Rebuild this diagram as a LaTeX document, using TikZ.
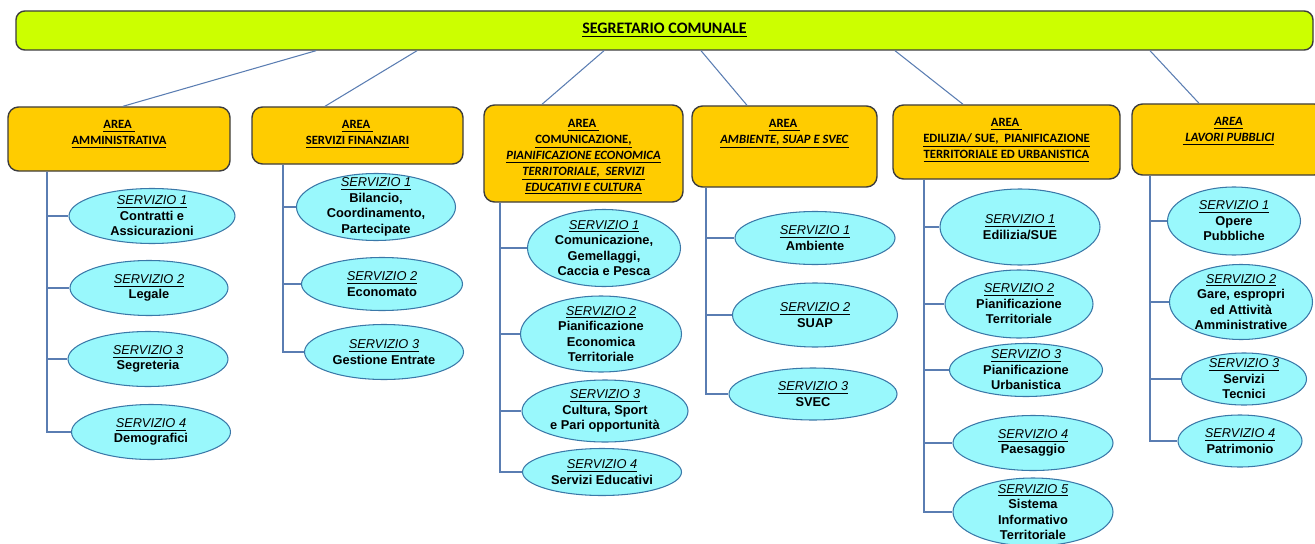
\documentclass[tikz,border=0pt]{standalone}
\usepackage{fontspec}
\setmainfont{Carlito}
\newfontfamily\arial{Liberation Sans}
\usetikzlibrary{shapes.geometric, calc}
\definecolor{verdino}{RGB}{204,255,0}
\definecolor{oro}{RGB}{255,204,0}
\definecolor{celeste}{RGB}{153,248,252}
\definecolor{bordoserv}{RGB}{58,120,168}
\definecolor{linea}{RGB}{90,125,178}
\definecolor{bordo}{RGB}{60,60,60}
\tikzstyle{conn} = [draw=linea, line width=0.6pt]
\tikzstyle{arealbl} = [anchor=north, inner sep=0pt, align=center, font=\bfseries\fontsize{7.2}{9}\selectfont]
\tikzset{
  areabox/.style 2 args={rectangle, draw=bordo, fill=oro, line width=0.8pt,
    rounded corners=6pt, inner sep=0pt, minimum width=#1*0.02cm, minimum height=#2*0.02cm},
  serv/.style 2 args={ellipse, draw=bordoserv, fill=celeste, line width=0.6pt,
    inner xsep=-2pt, inner ysep=-4pt, align=center,
    minimum width=#1*0.02cm, minimum height=#2*0.02cm,
    font=\arial\bfseries\fontsize{7.3}{8.8}\selectfont}
}
\newcommand{\servizio}[1]{\underline{\textit{\mdseries SERVIZIO #1}}}
\newcommand{\sott}[1]{\underline{#1}}

\begin{document}
\begin{tikzpicture}[x=0.02cm, y=-0.02cm]
\useasboundingbox (0,0) rectangle (1315,544);
\clip (0,0) rectangle (1315,544);

% segretario
\node[draw=bordo, fill=verdino, line width=0.8pt, rounded corners=5pt,
  minimum width=1297*0.02cm, minimum height=39*0.02cm,
  font=\bfseries\fontsize{9.1}{11}\selectfont] (top) at (664.5,30.5)
  {\sott{SEGRETARIO COMUNALE}};

% aree
\node[areabox={222}{64}] (a1) at (119,139) {};
\node[areabox={211}{57}] (a2) at (357.5,135.5) {};
\node[areabox={199}{97}] (a3) at (583.5,153.5) {};
\node[areabox={185}{81}] (a4) at (784.5,146.5) {};
\node[areabox={227}{74}] (a5) at (1006.5,142) {};
\node[areabox={193}{71}] (a6) at (1228.5,139.5) {};

\node[arealbl] at ([yshift=-0.28cm]a1.north)
  {\sott{AREA\ }\\ \sott{AMMINISTRATIVA}};
\node[arealbl] at ([yshift=-0.28cm]a2.north)
  {\sott{AREA\ }\\ \sott{SERVIZI FINANZIARI}};
\node[arealbl] at ([yshift=-0.3cm]a3.north)
  {\sott{AREA\ }\\ \sott{COMUNICAZIONE,}\\ \sott{\textit{PIANIFICAZIONE ECONOMICA}}\\
   \sott{\textit{TERRITORIALE,\ \ SERVIZI}}\\ \sott{\textit{EDUCATIVI E CULTURA}}};
\node[arealbl] at ([yshift=-0.28cm]a4.north)
  {\sott{AREA\ }\\ \sott{\textit{AMBIENTE, SUAP E SVEC}}};
\node[arealbl] at ([yshift=-0.28cm]a5.north)
  {\sott{AREA\ }\\ \sott{EDILIZIA/ SUE,\ \ PIANIFICAZIONE}\\ \sott{TERRITORIALE ED URBANISTICA}};
\node[arealbl] at ([yshift=-0.28cm]a6.north)
  {\sott{\textit{AREA}}\\ \sott{\textit{\ LAVORI PUBBLICI}}};

% servizi
\node[serv={166}{55}] (s11) at (152,216) {\servizio{1}\\ Contratti e\\ Assicurazioni};
\node[serv={158}{55}] (s12) at (149,288) {\servizio{2}\\ Legale};
\node[serv={160}{55}] (s13) at (148,359) {\servizio{3}\\ Segreteria};
\node[serv={159}{55}] (s14) at (151,432) {\servizio{4}\\ Demografici};

\node[serv={159}{67}] (s21) at (376,207) {\servizio{1}\\ Bilancio,\\ Coordinamento,\\ Partecipate};
\node[serv={161}{53}] (s22) at (382,284) {\servizio{2}\\ Economato};
\node[serv={159}{55}] (s23) at (384,352) {\servizio{3}\\ Gestione Entrate};

\node[serv={153}{77}] (s31) at (604,248) {\servizio{1}\\ Comunicazione,\\ Gemellaggi,\\ Caccia e Pesca};
\node[serv={161}{76}] (s32) at (601,334) {\servizio{2}\\ Pianificazione\\ Economica\\ Territoriale};
\node[serv={166}{62}] (s33) at (605,411) {\servizio{3}\\ Cultura, Sport\\ e Pari opportunità};
\node[serv={159}{47}] (s34) at (602,472) {\servizio{4}\\ Servizi Educativi};

\node[serv={160}{53}] (s41) at (815,238) {\servizio{1}\\ Ambiente};
\node[serv={165}{64}] (s42) at (815,315) {\servizio{2}\\ SUAP};
\node[serv={168}{52}] (s43) at (813,394) {\servizio{3}\\ SVEC};

\node[serv={160}{76}] (s51) at (1020,227) {\servizio{1}\\ Edilizia/SUE};
\node[serv={148}{68}] (s52) at (1019,304) {\servizio{2}\\ Pianificazione\\ Territoriale};
\node[serv={153}{53}] (s53) at (1026,370) {\servizio{3}\\ Pianificazione\\ Urbanistica};
\node[serv={160}{55}] (s54) at (1033,443) {\servizio{4}\\ Paesaggio};
\node[serv={160}{68}] (s55) at (1033,512) {\servizio{5}\\ Sistema\\ Informativo\\ Territoriale};

\node[serv={133}{68}] (s61) at (1234,221) {\servizio{1}\\ Opere\\ Pubbliche};
\node[serv={143}{75}] (s62) at (1241,302) {\servizio{2}\\ Gare, espropri\\ ed Attività\\ Amministrative};
\node[serv={125}{52}] (s63) at (1244,379) {\servizio{3}\\ Servizi\\ Tecnici};
\node[serv={124}{52}] (s64) at (1240,441) {\servizio{4}\\ Patrimonio};

% collegamenti
\foreach \t/\b/\a in {316/123/a1, 417/325/a2, 604/542/a3, 701/747/a4, 895/963/a5, 1150/1199/a6}
  \draw[conn] (top.south -| \t,0) -- (\a.north -| \b,0);

\foreach \s in {s11,s12,s13,s14}
  \draw[conn] (a1.south -| 47,0) |- (\s.west);
\foreach \s in {s21,s22,s23}
  \draw[conn] (a2.south -| 283,0) |- (\s.west);
\foreach \s in {s31,s32,s33,s34}
  \draw[conn] (a3.south -| 500,0) |- (\s.west);
\foreach \s in {s41,s42,s43}
  \draw[conn] (a4.south -| 706,0) |- (\s.west);
\foreach \s in {s51,s52,s53,s54,s55}
  \draw[conn] (a5.south -| 924,0) |- (\s.west);
\foreach \s in {s61,s62,s63,s64}
  \draw[conn] (a6.south -| 1150,0) |- (\s.west);
\end{tikzpicture}
\end{document}
